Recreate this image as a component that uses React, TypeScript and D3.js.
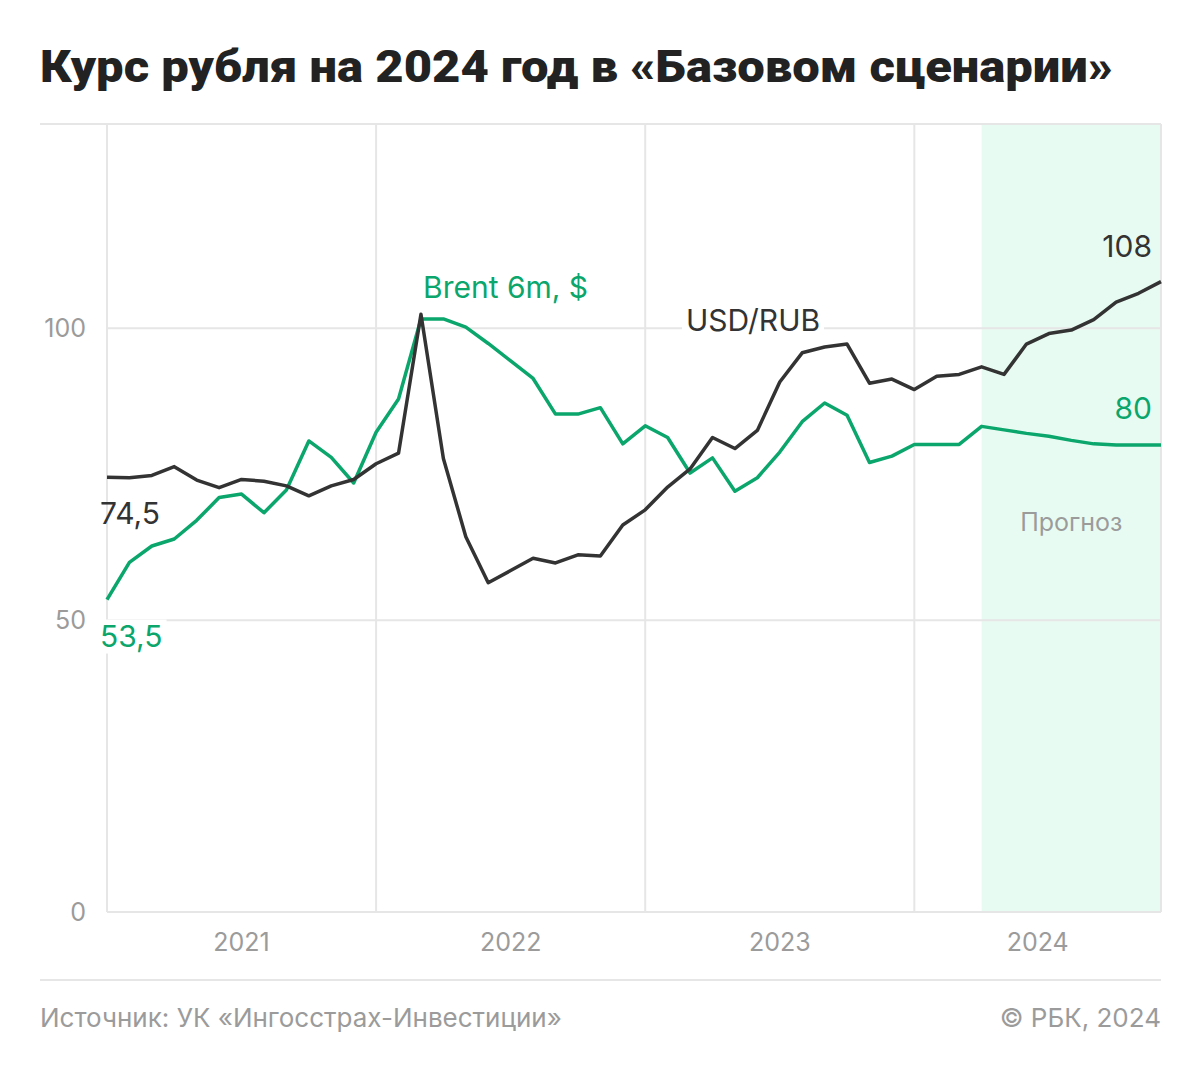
import React, { useEffect, useRef } from "react";
import * as d3 from "d3";

// monthly values, Jan 2021 .. Dec 2024
const usdRub = [
  74.5, 74.4, 74.8, 76.3, 74.0, 72.7, 74.1, 73.8, 73.0, 71.3, 73.0, 74.1,
  76.8, 78.6, 102.4, 77.7, 64.3, 56.4, 58.5, 60.6, 59.8, 61.2, 61.0, 66.3,
  68.9, 72.8, 75.9, 81.3, 79.4, 82.5, 90.8, 95.8, 96.8, 97.3, 90.6, 91.3,
  89.5, 91.8, 92.1, 93.4, 92.1, 97.3, 99.1, 99.7, 101.5, 104.5, 106.0, 108,
];
const brent = [
  53.5, 59.9, 62.7, 63.9, 67.1, 71.0, 71.6, 68.4, 72.3, 80.7, 77.9, 73.5,
  82.2, 87.9, 101.6, 101.6, 100.2, 97.4, 94.4, 91.4, 85.3, 85.3, 86.4, 80.2,
  83.3, 81.3, 75.2, 77.8, 72.1, 74.4, 78.8, 84.0, 87.2, 85.1, 77.0, 78.1,
  80.1, 80.1, 80.1, 83.2, 82.6, 82.0, 81.5, 80.8, 80.2, 80, 80, 80,
];
const years = ["2021", "2022", "2023", "2024"];
const yTicks = [0, 50, 100];
const forecastStart = 39; // Apr 2024

const W = 1200,
  H = 1074;
const BLACK = "#333333";
const GREEN = "#0aa66c";
const GREY = "#9b9b9b";
const GRID = "#e6e6e6";
const FONT = "Inter, Roboto, sans-serif";
const TITLE_FONT = "Roboto, sans-serif";

export default function App() {
  const ref = useRef<SVGSVGElement>(null);

  useEffect(() => {
    const svg = d3.select(ref.current);
    svg.selectAll("*").remove();

    const left = 107,
      right = 1161,
      top = 124,
      bottom = 912;

    const x = d3.scaleLinear().domain([0, usdRub.length - 1]).range([left, right]);
    const y = d3.scaleLinear().domain([0, 135]).range([bottom, top]);

    // title
    svg
      .append("text")
      .attr("x", 40)
      .attr("y", 82)
      .attr("font-family", TITLE_FONT)
      .attr("font-weight", 900)
      .attr("font-size", 45)
      .attr("fill", "#222")
      .attr("textLength", 1073)
      .attr("lengthAdjust", "spacingAndGlyphs")
      .text("Курс рубля на 2024 год в «Базовом сценарии»");

    // forecast area
    svg
      .append("rect")
      .attr("x", x(forecastStart))
      .attr("y", top)
      .attr("width", right - x(forecastStart))
      .attr("height", bottom - top)
      .attr("fill", "#e8fbf2");

    svg
      .append("text")
      .attr("x", (x(forecastStart) + right) / 2)
      .attr("y", 522)
      .attr("dy", "0.35em")
      .attr("text-anchor", "middle")
      .attr("font-family", FONT)
      .attr("font-size", 25)
      .attr("fill", GREY)
      .text("Прогноз");

    // top and footer separators
    svg.append("line").attr("x1", 40).attr("x2", right).attr("y1", top).attr("y2", top)
      .attr("stroke", GRID).attr("stroke-width", 2);
    svg.append("line").attr("x1", 40).attr("x2", right).attr("y1", 980).attr("y2", 980)
      .attr("stroke", GRID).attr("stroke-width", 2);

    // horizontal grid
    svg
      .append("g")
      .selectAll("line")
      .data(yTicks)
      .join("line")
      .attr("x1", left)
      .attr("x2", right)
      .attr("y1", (d) => y(d))
      .attr("y2", (d) => y(d))
      .attr("stroke", GRID)
      .attr("stroke-width", 2);

    // vertical grid at year starts + right edge
    const vLines = [0, 12, 24, 36, usdRub.length - 1];
    svg
      .append("g")
      .selectAll("line")
      .data(vLines)
      .join("line")
      .attr("x1", (d) => x(d))
      .attr("x2", (d) => x(d))
      .attr("y1", top)
      .attr("y2", bottom)
      .attr("stroke", GRID)
      .attr("stroke-width", 2);

    // y labels
    svg
      .append("g")
      .selectAll("text")
      .data(yTicks)
      .join("text")
      .attr("x", 86)
      .attr("y", (d) => y(d))
      .attr("dy", "0.36em")
      .attr("text-anchor", "end")
      .attr("font-family", FONT)
      .attr("font-size", 25)
      .attr("fill", GREY)
      .text((d) => d);

    // x labels
    svg
      .append("g")
      .selectAll("text")
      .data(years)
      .join("text")
      .attr("x", (_, i) => x((i * 12 + Math.min(i * 12 + 12, usdRub.length - 1)) / 2))
      .attr("y", 942)
      .attr("dy", "0.36em")
      .attr("text-anchor", "middle")
      .attr("font-family", FONT)
      .attr("font-size", 25)
      .attr("fill", GREY)
      .text((d) => d);

    // labels with white boxes
    const labels = svg.append("g");
    const addLabel = (tx: number, ty: number, txt: string, color: string, anchor: string, box: boolean) => {
      const t = labels
        .append("text")
        .attr("x", tx)
        .attr("y", ty)
        .attr("dy", "0.36em")
        .attr("text-anchor", anchor)
        .attr("font-family", FONT)
        .attr("font-size", 30)
        .attr("fill", color)
        .text(txt);
      if (box) {
        const b = (t.node() as SVGTextElement).getBBox();
        labels
          .insert("rect", () => t.node())
          .attr("x", b.x - 4)
          .attr("y", b.y + 2)
          .attr("width", b.width + 8)
          .attr("height", b.height - 2)
          .attr("fill", "#fff");
      }
    };

    const line = d3
      .line<number>()
      .x((_, i) => x(i))
      .y((d) => y(d));

    svg
      .append("path")
      .datum(brent)
      .attr("d", line)
      .attr("fill", "none")
      .attr("stroke", GREEN)
      .attr("stroke-width", 3.5)
      .attr("stroke-linejoin", "round");

    svg
      .append("path")
      .datum(usdRub)
      .attr("d", line)
      .attr("fill", "none")
      .attr("stroke", BLACK)
      .attr("stroke-width", 3.5)
      .attr("stroke-linejoin", "round");

    svg.node()!.appendChild(labels.node()!);

    addLabel(100, y(usdRub[0]) + 36, "74,5", BLACK, "start", false);
    addLabel(100, y(brent[0]) + 36, "53,5", GREEN, "start", true);
    addLabel(423, 287, "Brent 6m, $", GREEN, "start", true);
    addLabel(686, 320, "USD/RUB", BLACK, "start", true);
    addLabel(1152, y(usdRub[usdRub.length - 1]) - 35, "108", BLACK, "end", false);
    addLabel(1152, y(brent[brent.length - 1]) - 37, "80", GREEN, "end", false);

    // footer
    svg
      .append("text")
      .attr("x", 40)
      .attr("y", 1018)
      .attr("dy", "0.36em")
      .attr("font-family", FONT)
      .attr("font-size", 26)
      .attr("fill", GREY)
      .text("Источник: УК «Ингосстрах-Инвестиции»");
    svg
      .append("text")
      .attr("x", right)
      .attr("y", 1018)
      .attr("dy", "0.36em")
      .attr("text-anchor", "end")
      .attr("font-family", FONT)
      .attr("font-size", 26)
      .attr("fill", GREY)
      .text("© РБК, 2024");
  }, []);

  return (
    <svg
      ref={ref}
      width={W}
      height={H}
      style={{ display: "block", position: "absolute", left: 0, top: 0, background: "#fff" }}
    />
  );
}
